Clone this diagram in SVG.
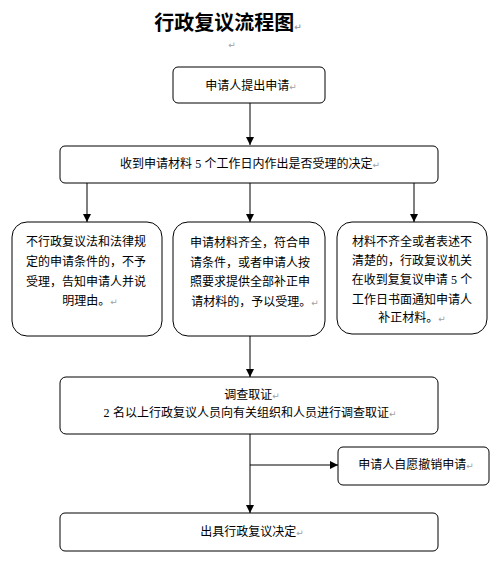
<svg xmlns="http://www.w3.org/2000/svg" width="503" height="573" viewBox="0 0 503 573">
<style>
text{font-family:"Liberation Sans","Noto Sans CJK SC",sans-serif;font-size:12px;fill:#000;text-anchor:middle}
.t{font-size:20px;font-weight:bold}
.pm{fill:#a0a0a0;font-size:9px;font-family:"DejaVu Sans",sans-serif}
.n{font-family:"Liberation Serif",serif;font-size:12px}
.box{fill:#fff;stroke:#000;stroke-width:1}
.ln{stroke:#000;stroke-width:1;fill:none}
</style>
<defs>
<marker id="ah" viewBox="0 0 10 10" refX="10" refY="5" markerWidth="8" markerHeight="8" markerUnits="userSpaceOnUse" orient="auto">
<path d="M0,0 L10,5 L0,10 z" fill="#000"/>
</marker>
</defs>
<rect width="503" height="573" fill="#fff"/>
<g id="title">
<text class="t" x="228" y="30">行政复议流程图<tspan class="pm">↵</tspan></text>
<text class="pm" x="232" y="48">↵</text>
</g>
<g id="connectors">
<line class="ln" x1="250" y1="103" x2="250" y2="145" marker-end="url(#ah)"/>
<line class="ln" x1="87" y1="183" x2="87" y2="222" marker-end="url(#ah)"/>
<line class="ln" x1="250" y1="183" x2="250" y2="222" marker-end="url(#ah)"/>
<line class="ln" x1="414" y1="183" x2="414" y2="222" marker-end="url(#ah)"/>
<line class="ln" x1="250" y1="336" x2="250" y2="377" marker-end="url(#ah)"/>
<line class="ln" x1="250" y1="434" x2="250" y2="513" marker-end="url(#ah)"/>
<line class="ln" x1="250" y1="465" x2="338" y2="465" marker-end="url(#ah)"/>
</g>
<g id="n1">
<rect class="box" x="173" y="67" width="152" height="36" rx="5"/>
<text x="251" y="90">申请人提出申请<tspan class="pm">↵</tspan></text>
</g>
<g id="n2">
<rect class="box" x="60" y="146" width="378" height="37" rx="5"/>
<text x="250" y="168">收到申请材料 <tspan class="n">5</tspan> 个工作日内作出是否受理的决定<tspan class="pm">↵</tspan></text>
</g>
<g id="n3">
<rect class="box" x="12" y="222" width="150" height="114" rx="15"/>
<text x="86" y="246">不行政复议法和法律规</text>
<text x="86" y="266">定的申请条件的，不予</text>
<text x="86" y="286">受理，告知申请人并说</text>
<text x="90" y="305">明理由。<tspan class="pm">↵</tspan></text>
</g>
<g id="n4">
<rect class="box" x="173" y="222" width="152" height="114" rx="15"/>
<text x="250" y="247">申请材料齐全，符合申</text>
<text x="250" y="267">请条件，或者申请人按</text>
<text x="250" y="286">照要求提供全部补正申</text>
<text x="255" y="306">请材料的，予以受理。<tspan class="pm">↵</tspan></text>
</g>
<g id="n5">
<rect class="box" x="337" y="222" width="150" height="112" rx="15"/>
<text x="412" y="246">材料不齐全或者表述不</text>
<text x="412" y="265">清楚的，行政复议机关</text>
<text x="412" y="284">在收到复复议申请 <tspan class="n">5</tspan> 个</text>
<text x="412" y="304">工作日书面通知申请人</text>
<text x="412" y="322">补正材料。<tspan class="pm">↵</tspan></text>
</g>
<g id="n6">
<rect class="box" x="60" y="377" width="378" height="57" rx="6"/>
<text x="252" y="399">调查取证<tspan class="pm">↵</tspan></text>
<text x="250" y="417"><tspan class="n">2</tspan> 名以上行政复议人员向有关组织和人员进行调查取证<tspan class="pm">↵</tspan></text>
</g>
<g id="n7">
<rect class="box" x="338" y="447" width="151" height="38" rx="5"/>
<text x="416" y="469">申请人自愿撤销申请<tspan class="pm">↵</tspan></text>
</g>
<g id="n8">
<rect class="box" x="60" y="513" width="378" height="38" rx="5"/>
<text x="252" y="536">出具行政复议决定<tspan class="pm">↵</tspan></text>
</g>
</svg>
